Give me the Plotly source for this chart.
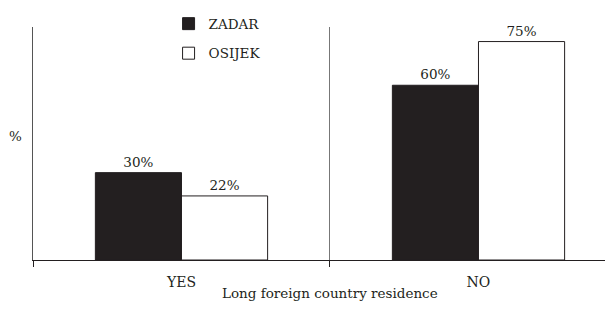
import plotly.graph_objects as go

categories = ["YES", "NO"]
zadar = [30, 60]
osijek = [22, 75]
series_names = ["ZADAR", "OSIJEK"]

FONT = "DejaVu Serif"
INK = "#231f20"

fig = go.Figure()
fig.add_trace(go.Bar(
    name=series_names[0], x=categories, y=zadar,
    marker=dict(color=INK, line=dict(color=INK, width=1)),
    text=[f"{v}%" for v in zadar], textposition="outside",
    textfont=dict(family=FONT, size=13.5, color=INK), cliponaxis=False,
    legendgroup="a",
))
fig.add_trace(go.Bar(
    name=series_names[1], x=categories, y=osijek,
    marker=dict(color="white", line=dict(color=INK, width=1)),
    text=[f"{v}%" for v in osijek], textposition="outside",
    textfont=dict(family=FONT, size=13.5, color=INK), cliponaxis=False,
    legendgroup="b",
))

fig.update_layout(
    width=597, height=293,
    margin=dict(l=25, r=0, t=19, b=41),
    paper_bgcolor="white", plot_bgcolor="white",
    font=dict(family=FONT, size=13.5, color=INK),
    barmode="group", bargap=0.42, bargroupgap=0,
    showlegend=True,
    legend=dict(x=0.237, y=1.08, xanchor="left", yanchor="top",
                bgcolor="rgba(0,0,0,0)", font=dict(family=FONT, size=13.5),
                traceorder="grouped", tracegroupgap=9),
    xaxis=dict(range=[-0.5, 1.426], showline=True, linecolor=INK, linewidth=1,
               ticks="outside", ticklen=6, tickcolor=INK, tickson="boundaries",
               ticklabelstandoff=9,
               showgrid=True, gridcolor="#777777", gridwidth=1,
               tickfont=dict(family=FONT, size=14), zeroline=False),
    yaxis=dict(range=[0, 80], showline=True, linecolor="#555555", linewidth=1,
               showticklabels=False, ticks="", showgrid=False, zeroline=False),
    annotations=[
        dict(text="Long foreign country residence", x=0.5, xref="x",
             y=-0.1416, yref="paper", showarrow=False, yanchor="middle",
             font=dict(family=FONT, size=13.5, color=INK)),
        dict(text="%", x=-0.045, xref="paper", y=0.532, yref="paper",
             showarrow=False, font=dict(family=FONT, size=13.5, color=INK)),
    ],
)

fig.write_html("out.html")
